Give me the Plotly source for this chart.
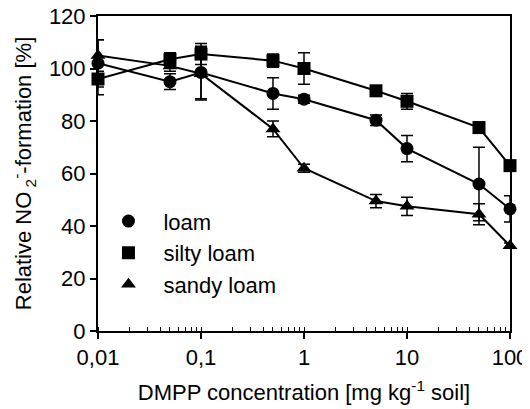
import plotly.graph_objects as go

conc = [0.01, 0.05, 0.1, 0.5, 1, 5, 10, 50, 100]

loam = [102, 95, 98.5, 90.5, 88.3, 80.3, 69.5, 56, 46.5]
loam_err = [9, 3, 10, 6, 1.5, 2, 5, 14, 5]

silty_loam = [96, 103.5, 105.5, 103, 100, 91.5, 87.5, 77.5, 63]
silty_err = [6, 2.5, 4, 2.5, 6, 1, 3, 1, 2]

sandy_loam = [105, 101, 98, 77, 62, 49.5, 47.5, 44.5, 32.5]
sandy_err = [6, 2, 10, 3, 1.5, 2.5, 3.5, 4, 1]

x_tickvals = [0.01, 0.1, 1, 10, 100]
x_ticktext = ["0,01", "0,1", "1", "10", "100"]
y_tickvals = [0, 20, 40, 60, 80, 100, 120]

font_family = "Liberation Sans, Arial, sans-serif"
FS = 22

fig = go.Figure()

series = [
    ("loam", loam, loam_err, "circle"),
    ("silty loam", silty_loam, silty_err, "square"),
    ("sandy loam", sandy_loam, sandy_err, "triangle-up"),
]

for name, vals, errs, sym in series:
    fig.add_trace(go.Scatter(
        x=conc, y=vals, name=name, mode="lines+markers",
        line=dict(color="black", width=2),
        marker=dict(symbol=sym, size=13, color="black"),
        error_y=dict(type="data", array=errs, visible=True,
                     color="black", thickness=1.5, width=6),
        cliponaxis=False, showlegend=False,
    ))
    # legend entry: marker only
    fig.add_trace(go.Scatter(
        x=[None], y=[None], name=name, mode="markers",
        marker=dict(symbol=sym, size=13, color="black"),
        showlegend=True,
    ))

fig.update_layout(
    width=530, height=409,
    margin=dict(l=90, r=28, t=8, b=86),
    paper_bgcolor="white", plot_bgcolor="white",
    font=dict(family=font_family, size=FS, color="black"),
    showlegend=True,
    legend=dict(x=-0.011, y=0.415, xanchor="left", yanchor="top",
                bgcolor="rgba(0,0,0,0)", font=dict(size=FS),
                itemwidth=60, tracegroupgap=0),
    xaxis=dict(
        type="log", range=[-2, 2], automargin=False,
        tickvals=x_tickvals, ticktext=x_ticktext,
        ticklabeloverflow="allow",
        showgrid=False, zeroline=False,
        showline=True, linecolor="black", linewidth=2, mirror=True,
        ticks="outside", ticklen=6, tickwidth=1.5, tickcolor="black",
        minor=dict(ticks="inside", ticklen=4, tickwidth=1, tickcolor="black",
                   dtick="D1", showgrid=False),
        title=dict(text="DMPP concentration [mg kg<sup>-1</sup> soil]", font=dict(size=FS)),
        tickfont=dict(size=FS),
    ),
    yaxis=dict(
        range=[0, 120], tickvals=y_tickvals, automargin=False,
        ticklabeloverflow="allow",
        showgrid=False, zeroline=False,
        showline=True, linecolor="black", linewidth=2, mirror=True,
        ticks="outside", ticklen=6, tickwidth=1.5, tickcolor="black",
        title=dict(text="Relative NO<sub> 2</sub><sup>-</sup>-formation [%]", font=dict(size=FS)),
        tickfont=dict(size=FS),
    ),
)

fig.write_html("out.html")
